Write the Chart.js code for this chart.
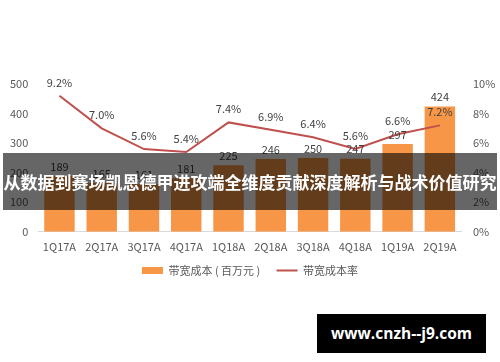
<!DOCTYPE html>
<html>
<head>
<meta charset="utf-8">
<script src="https://cdn.jsdelivr.net/npm/chart.js@4"></script>
<style>
  html, body { margin: 0; padding: 0; background: #fff; }
  #wrap { position: relative; width: 500px; height: 362px; overflow: hidden; }
  #banner {
    position: absolute; left: 3px; top: 153px; width: 494px; height: 57px;
    background: rgba(0,0,0,0.6); color: #fff;
    font-family: "Noto Sans CJK SC", sans-serif; font-weight: bold; font-size: 17px;
    line-height: 57px; text-align: center; white-space: nowrap;
  }
  #mark {
    position: absolute; left: 317px; top: 314px; width: 169px; height: 39px;
    background: #000; color: #fff;
    font-family: "Open Sans", sans-serif; font-weight: bold; font-size: 15.5px;
    line-height: 39px; text-align: center;
  }
</style>
</head>
<body>
<div id="wrap">
  <canvas id="chart" width="500" height="362"></canvas>
  <div id="banner">从数据到赛场凯恩德甲进攻端全维度贡献深度解析与战术价值研究</div>
  <div id="mark">www.cnzh--j9.com</div>
</div>
<script>
var quarters = ['1Q17A', '2Q17A', '3Q17A', '4Q17A', '1Q18A', '2Q18A', '3Q18A', '4Q18A', '1Q19A', '2Q19A'];
var bandwidthCost = [189, 165, 161, 181, 225, 246, 250, 247, 297, 424];
var costRate = [9.2, 7.0, 5.6, 5.4, 7.4, 6.9, 6.4, 5.6, 6.6, 7.2];

var font = '"Noto Sans CJK SC", "Open Sans", sans-serif';
Chart.defaults.font.family = font;
Chart.defaults.color = '#595959';

// simple value labels above bars and points
var valueLabels = {
  id: 'valueLabels',
  afterDatasetsDraw: function (chart) {
    var ctx = chart.ctx;
    ctx.save();
    ctx.font = '11px ' + font;
    ctx.fillStyle = '#404040';
    ctx.textAlign = 'center';
    ctx.textBaseline = 'bottom';
    chart.getDatasetMeta(1).data.forEach(function (bar, i) {
      ctx.fillText(bandwidthCost[i], bar.x, bar.y - 4);
    });
    chart.getDatasetMeta(0).data.forEach(function (pt, i) {
      ctx.fillText(costRate[i].toFixed(1) + '%', pt.x, pt.y - 8);
    });
    ctx.restore();
  }
};

var chart = new Chart(document.getElementById('chart').getContext('2d'), {
  data: {
    labels: quarters,
    datasets: [{
      type: 'line',
      label: '带宽成本率',
      data: costRate,
      yAxisID: 'y1',
      borderColor: '#c0504d',
      backgroundColor: '#c0504d',
      borderWidth: 2,
      pointRadius: 0,
      tension: 0,
      order: 0
    }, {
      type: 'bar',
      label: '带宽成本 ( 百万元 )     ',
      data: bandwidthCost,
      yAxisID: 'y',
      backgroundColor: '#f79646',
      barPercentage: 0.72,
      categoryPercentage: 1,
      order: 1
    }]
  },
  options: {
    responsive: false,
    animation: false,
    layout: { padding: { top: 84, left: 0, right: 0, bottom: 76 } },
    plugins: {
      legend: {
        position: 'bottom',
        reverse: true,
        labels: {
          font: { size: 11 },
          color: '#595959',
          usePointStyle: true,
          pointStyleWidth: 21,
          boxHeight: 7,
          padding: 4,
          generateLabels: function (c) {
            var items = Chart.defaults.plugins.legend.labels.generateLabels(c);
            items.forEach(function (it) {
              if (it.datasetIndex === 0) {
                it.pointStyle = 'line';
                it.strokeStyle = '#c0504d';
                it.lineWidth = 2;
              } else {
                it.pointStyle = 'rect';
                it.fillStyle = '#f79646';
                it.lineWidth = 0;
              }
            });
            return items;
          }
        }
      },
      tooltip: { enabled: false }
    },
    scales: {
      x: {
        grid: { display: false, drawTicks: false },
        border: { color: '#d9d9d9' },
        ticks: { font: { size: 11 }, color: '#595959', padding: 8, maxRotation: 0, autoSkip: false }
      },
      y: {
        min: 0, max: 500,
        ticks: { stepSize: 100, font: { size: 11 }, color: '#595959', padding: 10 },
        grid: { display: false, drawTicks: false },
        border: { display: false }
      },
      y1: {
        position: 'right',
        min: 0, max: 10,
        afterFit: function (s) { s.width = 39; },
        ticks: { stepSize: 2, font: { size: 11 }, color: '#595959', padding: 12, callback: function (v) { return v + '%'; } },
        grid: { display: false, drawTicks: false },
        border: { display: false }
      }
    }
  },
  plugins: [valueLabels]
});
</script>
</body>
</html>
